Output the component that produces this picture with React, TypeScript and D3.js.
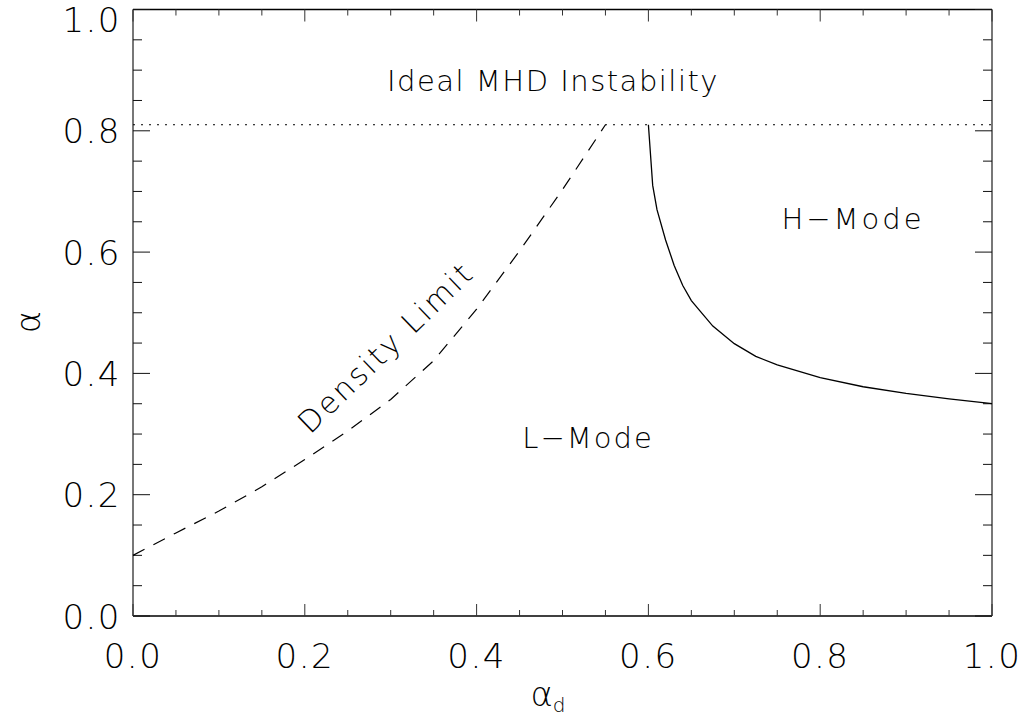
import React from "react";
import * as d3 from "d3";

const W = 1034;
const H = 721;

const xTicks = [0.0, 0.2, 0.4, 0.6, 0.8, 1.0];
const yTicks = [0.0, 0.2, 0.4, 0.6, 0.8, 1.0];

// Density limit (dashed)
const densityX = [0.0, 0.05, 0.1, 0.15, 0.2, 0.25, 0.3, 0.35, 0.4, 0.45, 0.5, 0.55];
const densityY = [0.1, 0.137, 0.173, 0.213, 0.258, 0.305, 0.357, 0.421, 0.506, 0.602, 0.703, 0.81];

// L-H transition (solid)
const lhX = [0.6, 0.605, 0.61, 0.62, 0.63, 0.64, 0.65, 0.66, 0.675, 0.7, 0.725, 0.75, 0.8, 0.85, 0.9, 0.95, 1.0];
const lhY = [0.81, 0.71, 0.67, 0.62, 0.578, 0.545, 0.52, 0.503, 0.478, 0.449, 0.428, 0.414, 0.393, 0.378, 0.367, 0.358, 0.35];

const mhdLimit = 0.81;

const FONT = "'DejaVu Sans ExtraLight', 'DejaVu Sans', sans-serif";

export default function App() {
  const left = 133, right = 992, top = 9.5, bottom = 616;
  const x = d3.scaleLinear().domain([0, 1]).range([left, right]);
  const y = d3.scaleLinear().domain([0, 1]).range([bottom, top]);

  const line = d3
    .line<[number, number]>()
    .x((d) => x(d[0]))
    .y((d) => y(d[1]));

  const densPts: [number, number][] = densityX.map((v, i) => [v, densityY[i]]);
  const lhPts: [number, number][] = lhX.map((v, i) => [v, lhY[i]]);

  const xMinor = d3.range(0, 1.0001, 0.05);
  const yMinor = d3.range(0, 1.0001, 0.05);
  const isMajor = (v: number) => Math.abs(v * 5 - Math.round(v * 5)) < 1e-6;

  const textStyle: React.CSSProperties = {
    fontFamily: FONT,
    fontWeight: 200,
  };

  return (
    <svg
      width={W}
      height={H}
      style={{ position: "absolute", left: 0, top: 0, background: "#fff" }}
    >
      <rect x={0} y={0} width={W} height={H} fill="#fff" />
      {/* frame */}
      <line x1={left} x2={right} y1={bottom} y2={bottom} stroke="#000" strokeWidth={1.5} />
      <line x1={left} x2={right} y1={top} y2={top} stroke="#000" strokeWidth={1.5} />
      <line x1={left} x2={left} y1={top} y2={bottom} stroke="#555" strokeWidth={1.6} />
      <line x1={right} x2={right} y1={top} y2={bottom} stroke="#555" strokeWidth={1.6} />

      {/* x ticks */}
      {xMinor.map((v, i) => {
        const len = isMajor(v) ? 12 : 6;
        return (
          <g key={"xt" + i}>
            <line x1={x(v)} x2={x(v)} y1={bottom} y2={bottom - len} stroke="#333" strokeWidth={1} />
            <line x1={x(v)} x2={x(v)} y1={top} y2={top + len} stroke="#333" strokeWidth={1} />
          </g>
        );
      })}
      {/* y ticks */}
      {yMinor.map((v, i) => {
        const len = isMajor(v) ? 17 : 9;
        return (
          <g key={"yt" + i}>
            <line x1={left} x2={left + len} y1={y(v)} y2={y(v)} stroke="#111" strokeWidth={1} />
            <line x1={right} x2={right - len} y1={y(v)} y2={y(v)} stroke="#111" strokeWidth={1} />
          </g>
        );
      })}

      {/* x tick labels */}
      {xTicks.map((v, i) => (
        <text
          key={"xl" + i}
          x={x(v)}
          y={668}
          textAnchor="middle"
          fontSize={34}
          letterSpacing={1.5}
          style={textStyle}
          fill="#000"
        >
          {v.toFixed(1)}
        </text>
      ))}
      {/* y tick labels */}
      {yTicks.map((v, i) => (
        <text
          key={"yl" + i}
          x={121}
          y={Math.max(y(v) + 12.5, 32)}
          textAnchor="end"
          fontSize={34}
          letterSpacing={1.5}
          style={textStyle}
          fill="#000"
        >
          {v.toFixed(1)}
        </text>
      ))}

      {/* axis titles */}
      <text
        transform={`translate(40, 322) rotate(-90)`}
        textAnchor="middle"
        fontSize={34}
        style={textStyle}
        fill="#000"
      >
        α
      </text>
      <text x={548} y={706} textAnchor="middle" fontSize={34} style={textStyle} fill="#000">
        α
        <tspan fontSize={20} dy={6}>d</tspan>
      </text>

      {/* MHD limit */}
      <line
        x1={left}
        x2={right}
        y1={y(mhdLimit)}
        y2={y(mhdLimit)}
        stroke="#000"
        strokeWidth={1}
        strokeDasharray="2,6"
      />

      {/* curves */}
      <path d={line(densPts) || ""} fill="none" stroke="#000" strokeWidth={1.2} strokeDasharray="13,10" />
      <path d={line(lhPts) || ""} fill="none" stroke="#000" strokeWidth={1.3} />

      {/* annotations */}
      <text x={553} y={91} textAnchor="middle" fontSize={29} letterSpacing={1.5} style={textStyle} fill="#000">
        Ideal MHD Instability
      </text>
      <text x={853} y={229} textAnchor="middle" fontSize={29} letterSpacing={3} style={textStyle} fill="#000">
        H−Mode
      </text>
      <text x={588} y={448} textAnchor="middle" fontSize={29} letterSpacing={2} style={textStyle} fill="#000">
        L−Mode
      </text>
      <text
        transform={`translate(393, 355) rotate(-44)`}
        textAnchor="middle"
        fontSize={30}
        letterSpacing={2.5}
        style={textStyle}
        fill="#000"
      >
        Density  Limit
      </text>
    </svg>
  );
}
